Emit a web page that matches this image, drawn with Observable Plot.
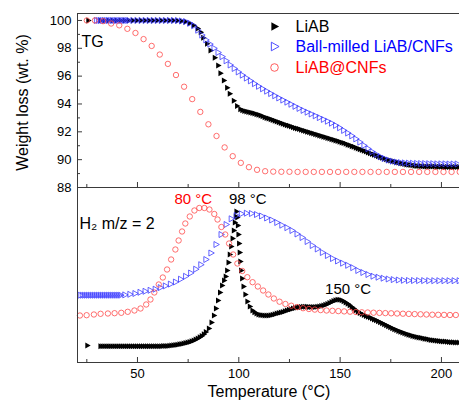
<!DOCTYPE html>
<html>
<head>
<meta charset="utf-8">
<script src="https://cdn.jsdelivr.net/npm/d3@7"></script>
<script src="https://cdn.jsdelivr.net/npm/@observablehq/plot@0.6"></script>
<style>
  html, body { margin: 0; padding: 0; background: #fff; }
  #chart { position: relative; width: 459px; height: 401px; overflow: hidden; background: #fff;
           font-family: "Liberation Sans", Arial, sans-serif; }
  #chart svg { position: absolute; left: 0; overflow: visible; display: block; }
</style>
</head>
<body>
<div id="chart"></div>
<script>
// ---------- DATA ----------
// Top panel: TG weight (wt. %) vs temperature (°C), pairs [T, weight]
const liabTG = [[26,100],[32,100],[34,100],[36,100],[38,100],[40,100],[42,100],[44,100],[46,100],[48,100],[50,100],[52,100],[54,100],[56,100],[58,100],[60,100],[62,100],[64,100],[66,100],[68,100],[70,99.98],[72,99.95],[74,99.9],[76,99.8],[78,99.65],[80,99.42],[81.5,99.15],[82.7,98.75],[84.6,98.32],[86.3,97.84],[88.4,97.32],[90.1,96.76],[91.2,96.21],[92.9,95.68],[94.5,95.16],[95.8,94.73],[97.8,94.24],[99.4,93.85],
[101,93.62],[102,93.55],[103,93.5],[104,93.46],[105,93.42],[106,93.38],[107,93.35],[108,93.31],[109,93.27],[110,93.23],[111,93.18],[112,93.11],[113,93.05],[114,93.0],[115,92.95],[116,92.9],[117,92.85],[118,92.8],[119,92.74],[120,92.68],[121,92.63],[122,92.58],[123,92.53],[124,92.48],[125,92.43],[126,92.38],[127,92.33],[128,92.28],[129,92.24],[130,92.2],[131,92.15],[132,92.1],[133,92.06],[134,92.01],[135,91.97],[136,91.92],[137,91.88],[138,91.83],[139,91.79],[140,91.74],[141,91.7],[142,91.65],[143,91.61],[144,91.56],[145,91.52],[146,91.47],[147,91.43],[148,91.38],[149,91.34],[150,91.29],[151,91.24],[152,91.19],[153,91.14],[154,91.08],[155,91.03],[156,90.97],[157,90.92],[158,90.86],[159,90.81],[160,90.75],[161,90.7],[162,90.64],[163,90.58],[164,90.52],[165,90.46],[166,90.4],[167,90.35],[168,90.29],[169,90.24],[170,90.18],[171,90.13],[172,90.08],[173,90.03],[174,89.98],[175,89.94],[176,89.9],[177,89.86],[178,89.82],[179,89.79],[180,89.75],[181,89.72],[182,89.69],[183,89.66],[184,89.63],[185,89.61],[186,89.59],[187,89.57],[188,89.55],[189,89.54],[190,89.53],[191,89.52],[192,89.51],[193,89.51],[194,89.5],[195,89.5],[196,89.5],[197,89.5],[198,89.49],[199,89.49],[200,89.49],[201,89.49],[202,89.48],[203,89.48],[204,89.48],[205,89.48],[206,89.48],[207,89.48],[208,89.48],[209,89.48]];
const ballTG = [[30,100],[31,100],[32,100],[33,100],[34,100],[35,100],[36,100],[37,100],[38,100],[39,100],[40,100],[41,100],[42,100],[43,100],[44,100],[45,100],[46,100],[48,100],[50,100],[52,100],[54,100],[56,100],[58,100],[60,100],[62,100],[64,100],[66,100],[68,100],[70,100],[72,99.97],[74,99.92],[76,99.8],[78,99.62],[80,99.3],[82,98.95],[84,98.6],[86,98.3],[88,98.0],[90,97.7],[92,97.4],[94,97.1],[96,96.8],[98,96.55],[100,96.3],[102,96.07],[104,95.86],[106,95.66],[108,95.46],[110,95.27],[112,95.09],[114,94.92],[116,94.75],[118,94.59],[120,94.43],[122,94.28],[124,94.13],[126,93.98],[128,93.83],[130,93.68],[132,93.54],[134,93.41],[136,93.28],[138,93.15],[140,93.02],[142,92.89],[144,92.76],[146,92.62],[148,92.46],[150,92.29],[152,92.1],[154,91.91],[156,91.71],[158,91.49],[160,91.26],[162,91.02],[164,90.79],[166,90.57],[168,90.38],[170,90.22],[172,90.08],[174,89.97],[176,89.89],[178,89.83],[180,89.79],[182,89.77],[184,89.75],[186,89.74],[188,89.73],[190,89.72],[192,89.72],[194,89.71],[196,89.71],[198,89.7],[200,89.7],[202,89.7],[204,89.69],[206,89.69],[208,89.69]];
const cnfTG = [[25,100],[29,100],[33,99.95],[37,99.78],[41,99.65],[45,99.4],[49,99.1],[53,98.66],[57,98.17],[61,97.55],[65,96.88],[69,96.08],[73,95.24],[77,94.35],[81,93.43],[85,92.54],[89,91.7],[93,90.88],[97,90.25],[101,89.77],[105,89.46],[109,89.27],[113,89.17],[117,89.14],[121,89.13],[125,89.13],[129,89.12],[133,89.12],[137,89.12],[141,89.12],[145,89.12],[149,89.12],[153,89.12],[157,89.12],[161,89.12],[165,89.12],[169,89.12],[173,89.12],[177,89.12],[181,89.12],[185,89.12],[189,89.12],[193,89.12],[197,89.12],[201,89.12],[205,89.12],[209,89.12]];

// Bottom panel: H2 (m/z = 2) signal, arbitrary units, pairs [T, signal]
const liabMS = [[25.5,17],[32,16.3],[33,16.3],[34,16.3],[35,16.3],[36,16.3],[37,16.3],[38,16.3],[39,16.3],[40,16.3],[41,16.3],[42,16.3],[43,16.3],[44,16.3],[45,16.3],[46,16.3],[47,16.3],[48,16.3],[49,16.3],[50,16.3],[51,16.3],[52,16.3],[53,16.3],[54,16.3],[55,16.3],[56,16.3],[57,16.3],[58,16.3],[59,16.3],[60,16.3],[61,16.3],[62,16.3],[63,16.4],[64,16.5],[65,16.6],[66,16.8],[67,17],[68,17.2],[69,17.5],[70,17.8],[71,18.2],[72,18.6],[73,19],[74,19.5],[75,20],[76,20.5],[77,21.2],[78,22],[79,23],[80,24],[81,25.2],[82,26.5],[83,28.3],[84,30.5],[85.5,34],[86.8,40],[88,47],[89,54],[90,62],[91,70],[92,77],[93,82],[93.8,86],[94.5,92],[95.2,100],[95.8,108],[96.5,116],[97.2,124],[97.8,132],[98.3,140],[98.8,146],[99.1,151],[99.5,145],[99.8,137],[100.1,128],[100.4,119],[100.7,110],[101,101],[101.4,92],[101.9,84],[102.6,76],[103.5,68],[104.5,61],[105.7,56],[107,52],[108,50.3],[109,49],[110,48],[111,47.5],[112,47.2],[113,47.1],[114,47],[115,47.1],[116,47.3],[117,47.8],[118,48.3],[119,48.9],[120,49.5],[121,50],[122,50.5],[123,51.2],[124,52],[125,52.7],[126,53.3],[127,53.9],[128,54.5],[129,54.9],[130,55.3],[131,55.5],[132,55.7],[133,55.7],[134,55.7],[135,55.6],[136,55.5],[137,55.5],[138,55.5],[139,55.7],[140,56],[141,56.5],[142,57],[143,57.7],[144,58.5],[145,59.5],[146,60.5],[147,61.5],[148,62.3],[149,62.7],[150,62.8],[151,62.2],[152,61.3],[153,60.1],[154,58.8],[155,57.2],[156,55.5],[157,53.9],[158,52.3],[159,50.8],[160,49.5],[161,48.4],[162,47.5],[163,46.6],[164,45.8],[165,44.9],[166,44],[167,43.1],[168,42.2],[169,41.2],[170,40.3],[171,39.3],[172,38.3],[173,37.3],[174,36.3],[175,35.3],[176,34.3],[177,33.3],[178,32.4],[179,31.5],[180,30.7],[181,29.9],[182,29.2],[183,28.5],[184,27.8],[185,27.2],[186,26.6],[187,26.1],[188,25.6],[189,25.1],[190,24.7],[191,24.2],[192,23.8],[193,23.4],[194,23],[195,22.6],[196,22.3],[197,22],[198,21.8],[199,21.5],[200,21.3],[201,21.1],[202,20.9],[203,20.7],[204,20.5],[205,20.3],[206,20.2],[207,20.1],[208,20],[209,19.9]];
const ballMS = [[22,67.3],[23,67.3],[24,67.3],[25,67.3],[26,67.3],[27,67.3],[28,67.3],[29,67.3],[30,67.3],[31,67.3],[32,67.3],[33,67.3],[34,67.3],[35,67.3],[36,67.3],[37,67.3],[38,67.3],[39,67.3],[40,67.3],[41,67.3],[42,67.3],[44,67.6],[46.5,68.2],[49,69],[51.5,70.2],[54,71.2],[56.5,72.2],[59,73.3],[61.5,74.9],[64,76.6],[66.5,78.4],[69,80.5],[71.5,83.3],[74,86.2],[76.5,89.5],[79,93.3],[81.5,97.8],[84,103],[86.5,109.5],[89,118],[91.5,128],[94,138],[96.5,143.7],[99,147],[101.5,148.7],[104,149.3],[106.5,149],[109,148],[111.5,146.5],[114,144.5],[116.5,142.5],[119,140],[121.5,137.3],[124,134.8],[126.5,132],[129,128.5],[131.5,125],[134,121],[136.5,117],[139,113.5],[141.5,110],[144,107],[146.5,104],[149,101.5],[151.5,99.3],[154,97.2],[156.5,94.8],[159,92],[161.5,90],[164,88],[166.5,86.3],[169,85.3],[171.5,84.3],[174,83.5],[176.5,82.9],[179,82.5],[181.5,82.2],[184,82],[186.5,82],[189,81.9],[191.5,81.9],[194,81.8],[196.5,81.8],[199,81.8],[201.5,81.8],[204,81.8],[206.5,81.8],[209,81.8]];
const cnfMS = [[21.6,47],[24.9,47.3],[28.5,48],[31.8,48.7],[35.4,49],[38.7,49.3],[42,49.7],[45.2,50.7],[48.5,52],[51.5,54],[54.3,58],[56.4,63],[58.3,70],[60.5,78],[62.5,85],[64.6,93],[66.6,103],[68.7,113],[70.3,122],[72,131],[73.6,139],[75.8,146],[78.1,152],[80.5,154.5],[83,154.5],[85.5,153],[87.9,148.5],[89.5,143],[91.4,135.5],[93.3,128],[95.2,119],[97.2,108],[99.3,99],[101.7,91.5],[104.2,85.3],[106.8,80.3],[109.4,76],[112,72],[114.6,68],[117.3,64],[120.1,60.8],[123,58.5],[125.9,56.8],[128.8,55.4],[131.7,54.3],[134.6,53.5],[137.5,52.9],[140.4,52.4],[143.3,52],[146.2,51.7],[149.1,51.4],[152,51.1],[154.9,50.8],[157.8,50.5],[160.7,50.2],[163.6,50],[166.5,49.8],[169.4,49.6],[172.3,49.4],[175.2,49.2],[178.1,49],[181,48.8],[183.9,48.6],[186.8,48.4],[189.7,48.2],[192.6,48],[195.5,47.8],[198.4,47.7],[201.3,47.6],[204.2,47.5],[207.1,47.5]];

// Tick values and labels
const xMajorTicks = [50, 100, 150, 200];
const xMinorTicks = [25, 75, 125, 175];
const yMajorTicks = [88, 90, 92, 94, 96, 98, 100];
const yMinorTicks = [89, 91, 93, 95, 97, 99];
const seriesNames = ["LiAB", "Ball-milled LiAB/CNFs", "LiAB@CNFs"];
const peakLabels = [
  {T: 80, label: "80 °C", color: "#ff0000"},
  {T: 98, label: "98 °C", color: "#000000"},
  {T: 150, label: "150 °C", color: "#000000"}
];
const xTitle = "Temperature (°C)";
const yTitle = "Weight loss (wt. %)";

// ---------- STYLE ----------
const FONT = "Liberation Sans, Arial, sans-serif";
const FRAME = "#3a3a3a";
const BLUE = "#3c3cff", RED = "#ff4a4a";
const W = 459, ML = 77, MR = -1;
const xDomain = [20.4, 209.4];

// right-pointing triangle symbol
const triRight = {
  draw(ctx, size) {
    const r = Math.sqrt(size / Math.PI);
    ctx.moveTo(-0.85 * r, -r);
    ctx.lineTo(0.95 * r, 0);
    ctx.lineTo(-0.85 * r, r);
    ctx.closePath();
  }
};

const seriesMarks = (blk, blu, red) => [
  Plot.dot(blk, {symbol: triRight, r: 3, fill: "#000", stroke: "none"}),
  Plot.dot(blu, {symbol: triRight, r: 3, fill: "none", stroke: BLUE, strokeWidth: 0.8}),
  Plot.dot(red, {symbol: "circle", r: 2.7, fill: "none", stroke: RED, strokeWidth: 0.8})
];

const xTickMarks = [
  Plot.axisX(xMajorTicks, {anchor: "bottom", tickSize: 5, dy: -5, tickFormat: () => "", label: null, stroke: FRAME}),
  Plot.axisX(xMinorTicks, {anchor: "bottom", tickSize: 3, dy: -3, tickFormat: () => "", label: null, stroke: FRAME})
];

// ---------- TOP PANEL (TG) ----------
const topPlot = Plot.plot({
  width: W, height: 187,
  marginLeft: ML, marginRight: MR, marginTop: 13, marginBottom: 0,
  style: {fontFamily: FONT, color: "#000", background: "transparent", overflow: "visible"},
  x: {domain: xDomain, axis: null},
  y: {domain: [88, 100.5], axis: null},
  marks: [
    ...seriesMarks(liabTG, ballTG, cnfTG),
    Plot.frame({stroke: FRAME}),
    ...xTickMarks,
    Plot.axisY(yMajorTicks, {anchor: "left", tickSize: 5, dx: 5, tickFormat: () => "", label: null, stroke: FRAME}),
    Plot.axisY(yMinorTicks, {anchor: "left", tickSize: 3, dx: 3, tickFormat: () => "", label: null, stroke: FRAME}),
    Plot.axisY(yMajorTicks, {anchor: "left", tickSize: 0, tickPadding: 6, label: null, fontSize: 13}),
    Plot.text([yTitle], {frameAnchor: "left", rotate: -90, dx: -55, dy: 2, fontSize: 16, textAnchor: "middle", lineAnchor: "middle", fill: "#000"}),
    Plot.text(["TG"], {frameAnchor: "top-left", dx: 4, dy: 22, lineAnchor: "top", textAnchor: "start", fontSize: 16, fill: "#000"}),
    // legend
    Plot.dot([seriesNames[0]], {frameAnchor: "top-left", dx: 197.5, dy: 13, symbol: triRight, r: 4.3, fill: "#000", stroke: "none"}),
    Plot.dot([seriesNames[1]], {frameAnchor: "top-left", dx: 197.5, dy: 33, symbol: triRight, r: 4.3, fill: "none", stroke: BLUE, strokeWidth: 0.9}),
    Plot.dot([seriesNames[2]], {frameAnchor: "top-left", dx: 197, dy: 54, symbol: "circle", r: 3.8, fill: "none", stroke: RED, strokeWidth: 0.9}),
    Plot.text([seriesNames[0]], {frameAnchor: "top-left", dx: 218, dy: 13, textAnchor: "start", lineAnchor: "middle", fontSize: 16, fill: "#000"}),
    Plot.text([seriesNames[1]], {frameAnchor: "top-left", dx: 218, dy: 33, textAnchor: "start", lineAnchor: "middle", fontSize: 16, fill: "#0000ff"}),
    Plot.text([seriesNames[2]], {frameAnchor: "top-left", dx: 218, dy: 54, textAnchor: "start", lineAnchor: "middle", fontSize: 16, fill: "#ff0000"})
  ]
});

// ---------- BOTTOM PANEL (MS, H2 m/z = 2) ----------
const botPlot = Plot.plot({
  width: W, height: 214,
  marginLeft: ML, marginRight: MR, marginTop: 0, marginBottom: 39,
  style: {fontFamily: FONT, color: "#000", background: "transparent", overflow: "visible"},
  x: {domain: xDomain, axis: null},
  y: {domain: [0, 175], axis: null},
  marks: [
    ...seriesMarks(liabMS, ballMS, cnfMS),
    Plot.frame({stroke: FRAME}),
    ...xTickMarks,
    Plot.axisX(xMajorTicks, {anchor: "bottom", tickSize: 0, tickPadding: 6, label: null, fontSize: 13}),
    Plot.text([xTitle], {frameAnchor: "bottom", dy: 23, lineAnchor: "top", textAnchor: "middle", fontSize: 16, fill: "#000"}),
    Plot.text(["H₂ m/z = 2"], {frameAnchor: "top-left", dx: 2, dy: 30, lineAnchor: "top", textAnchor: "start", fontSize: 16, fill: "#000"}),
    Plot.text([peakLabels[0]], {x: "T", text: "label", frameAnchor: "top", dx: -5, dy: 6, lineAnchor: "top", fontSize: 15, fill: (d) => d.color}),
    Plot.text([peakLabels[1]], {x: "T", text: "label", frameAnchor: "top", dx: 13, dy: 6, lineAnchor: "top", fontSize: 15, fill: (d) => d.color}),
    Plot.text([peakLabels[2]], {x: "T", text: "label", frameAnchor: "top", dx: 8, dy: 96, lineAnchor: "top", fontSize: 15, fill: (d) => d.color})
  ]
});

const chart = document.getElementById("chart");
topPlot.style.top = "0px";
botPlot.style.top = "187px";
chart.appendChild(botPlot);
chart.appendChild(topPlot);
</script>
</body>
</html>
